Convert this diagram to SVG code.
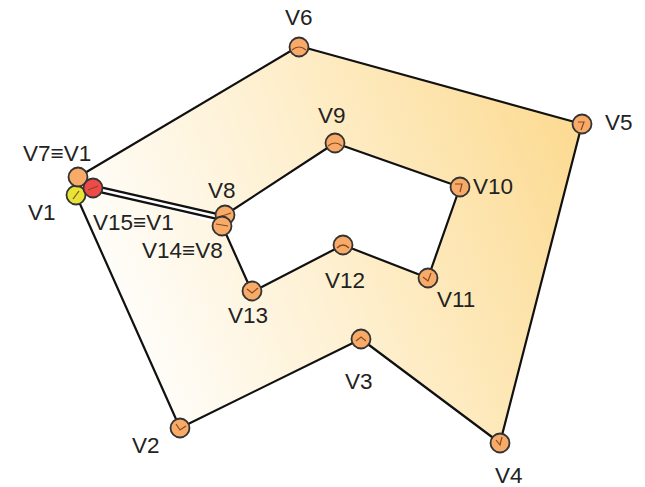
<svg xmlns="http://www.w3.org/2000/svg" width="645" height="487" viewBox="0 0 645 487">
<defs>
<linearGradient id="fillg" gradientUnits="userSpaceOnUse" x1="100" y1="330" x2="590" y2="140">
<stop offset="0" stop-color="#ffffff"/>
<stop offset="0.45" stop-color="#fef0d0"/>
<stop offset="1" stop-color="#fcda90"/>
</linearGradient>
<style>
.edge{fill:none;stroke:#111;stroke-width:2.2;stroke-linejoin:round}
.v{stroke:#333;stroke-width:1.8}
.o{fill:#f8aa68}
.y{fill:#e6e436}
.r{fill:#ee4a4a}
.tick{fill:none;stroke:#8a4a20;stroke-width:1.2}
text{font-family:"Liberation Sans",Arial,sans-serif;font-size:22.5px;fill:#222}
</style>
</defs>
<g id="region">
<path d="M76,195 L180,428 L361,339 L500,443 L582,124 L299,46 L78,177 L93,188 L225,215 L335,143 L460,187 L428,278 L343,245 L252,292 L222,225 L93,188 Z" fill="url(#fillg)" fill-rule="evenodd" stroke="none"/>
</g>
<g id="connectors">
<polyline class="edge" points="76,195 180,428 361,339 500,443 582,124 299,46 78,177"/>
<polyline class="edge" points="225,215 335,143 460,187 428,278 343,245 252,292 222,225"/>
<line x1="93" y1="188" x2="224" y2="218" stroke="#111" stroke-width="7"/>
<line x1="93" y1="188" x2="224" y2="218" stroke="#fff" stroke-width="2.6"/>
</g>
<g id="V1"><circle class="v y" cx="76" cy="195" r="9.5"/><path class="tick" d="M73,199 L79,191"/><text x="28" y="220">V1</text></g>
<g id="V7"><circle class="v o" cx="78" cy="177" r="9.5"/><text x="23" y="161">V7≡V1</text></g>
<g id="V15"><circle class="v r" cx="93" cy="188" r="9.5"/><path class="tick" d="M88,190 L98,186"/><text x="93" y="230">V15≡V1</text></g>
<g id="V2"><circle class="v o" cx="180" cy="428" r="9.5"/><path class="tick" d="M176,424 L180,430 L186,426"/><text x="132" y="453">V2</text></g>
<g id="V3"><circle class="v o" cx="361" cy="339" r="9.5"/><path class="tick" d="M356,341 L361,337 L366,341"/><text x="345" y="389">V3</text></g>
<g id="V4"><circle class="v o" cx="500" cy="443" r="9.5"/><path class="tick" d="M496,440 L500,445 L502,437"/><text x="495" y="483">V4</text></g>
<g id="V5"><circle class="v o" cx="582" cy="124" r="9.5"/><path class="tick" d="M578,122 L584,122 L581,130"/><text x="605" y="130">V5</text></g>
<g id="V6"><circle class="v o" cx="299" cy="47" r="9.5"/><path class="tick" d="M292,50 Q299,44 306,50"/><text x="285" y="25">V6</text></g>
<g id="V8"><circle class="v o" cx="225" cy="215" r="9.5"/><path class="tick" d="M219,217 L231,213"/><text x="208" y="198">V8</text></g>
<g id="V14"><circle class="v o" cx="222" cy="226" r="9.5"/><path class="tick" d="M216,224 L228,226"/><text x="142" y="258">V14≡V8</text></g>
<g id="V9"><circle class="v o" cx="335" cy="143" r="9.5"/><path class="tick" d="M328,146 Q335,140 342,146"/><text x="318" y="123">V9</text></g>
<g id="V10"><circle class="v o" cx="460" cy="187" r="9.5"/><path class="tick" d="M455,184 L462,184 L460,192"/><text x="473" y="194">V10</text></g>
<g id="V11"><circle class="v o" cx="428" cy="278" r="9.5"/><path class="tick" d="M423,277 L428,281 L431,273"/><text x="437" y="307">V11</text></g>
<g id="V12"><circle class="v o" cx="343" cy="245" r="9.5"/><path class="tick" d="M337,248 Q343,242 349,248"/><text x="325" y="288">V12</text></g>
<g id="V13"><circle class="v o" cx="252" cy="291" r="9.5"/><path class="tick" d="M247,289 L252,293 L258,288"/><text x="228" y="323">V13</text></g>
</svg>
